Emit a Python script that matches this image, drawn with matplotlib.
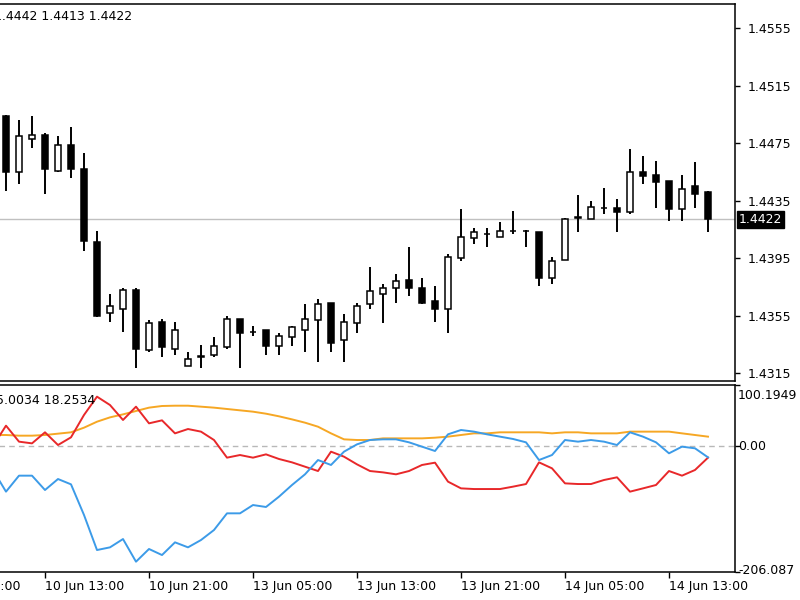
import matplotlib

matplotlib.use("Agg")

import matplotlib.pyplot as plt  # noqa: E402
import numpy as np  # noqa: E402
from matplotlib.patches import Rectangle  # noqa: E402

plt.rcParams["font.family"] = "DejaVu Sans"
plt.rcParams["font.size"] = 9

# hourly candles, first bar is 10 Jun 10:00
opens = [1.4494, 1.4455, 1.4478, 1.4481, 1.4456, 1.4474, 1.4457, 1.4406, 1.4357, 1.4360,
         1.4373, 1.4331, 1.4351, 1.4332, 1.4320, 1.4327, 1.4328, 1.4333, 1.4353, 1.4344,
         1.4345, 1.4334, 1.4340, 1.4345, 1.4352, 1.4364, 1.4338, 1.4350, 1.4363, 1.4370,
         1.4374, 1.4380, 1.4374, 1.4365, 1.4360, 1.4395, 1.4409, 1.4412, 1.4410, 1.4414,
         1.4414, 1.4413, 1.4381, 1.4394, 1.4424, 1.4422, 1.4430, 1.4430, 1.4427, 1.4455,
         1.4453, 1.4449, 1.4429, 1.4445, 1.4441]
highs = [1.4495, 1.4491, 1.4494, 1.4482, 1.4480, 1.4486, 1.4468, 1.4414, 1.4370, 1.4374,
         1.4374, 1.4352, 1.4353, 1.4351, 1.4330, 1.4335, 1.4340, 1.4355, 1.4353, 1.4348,
         1.4345, 1.4343, 1.4348, 1.4363, 1.4367, 1.4364, 1.4356, 1.4364, 1.4389, 1.4377,
         1.4384, 1.4403, 1.4381, 1.4376, 1.4398, 1.4429, 1.4416, 1.4416, 1.4420, 1.4428,
         1.4415, 1.4413, 1.4396, 1.4423, 1.4439, 1.4435, 1.4444, 1.4436, 1.4471, 1.4466,
         1.4463, 1.4449, 1.4453, 1.4462, 1.4442]
lows = [1.4442, 1.4447, 1.4472, 1.4440, 1.4455, 1.4451, 1.4400, 1.4354, 1.4351, 1.4344,
        1.4319, 1.4330, 1.4326, 1.4328, 1.4320, 1.4319, 1.4326, 1.4332, 1.4319, 1.4341,
        1.4328, 1.4328, 1.4334, 1.4330, 1.4323, 1.4330, 1.4323, 1.4343, 1.4360, 1.4350,
        1.4364, 1.4369, 1.4363, 1.4351, 1.4343, 1.4393, 1.4405, 1.4403, 1.4410, 1.4412,
        1.4403, 1.4376, 1.4377, 1.4394, 1.4413, 1.4422, 1.4426, 1.4413, 1.4426, 1.4447,
        1.4430, 1.4421, 1.4421, 1.4430, 1.4413]
closes = [1.4455, 1.4480, 1.4481, 1.4457, 1.4474, 1.4457, 1.4407, 1.4355, 1.4362, 1.4373,
          1.4332, 1.4350, 1.4333, 1.4345, 1.4325, 1.4326, 1.4334, 1.4353, 1.4343, 1.4344,
          1.4334, 1.4341, 1.4347, 1.4353, 1.4363, 1.4336, 1.4351, 1.4362, 1.4372, 1.4374,
          1.4379, 1.4374, 1.4364, 1.4360, 1.4396, 1.4410, 1.4413, 1.4412, 1.4414, 1.4414,
          1.4414, 1.4381, 1.4393, 1.4422, 1.4423, 1.4431, 1.4430, 1.4427, 1.4455, 1.4452,
          1.4448, 1.4429, 1.4443, 1.4440, 1.4422]

# indicator buffers, start one bar before the first candle
ind_orange = [18.3, 18.3, 17.2, 17.2, 18.3, 20.5, 22.7, 30.3, 40.1, 47.2, 52.1,
              57.6, 63.1, 65.8, 66.3, 66.3, 64.7, 63.1, 60.9, 58.7, 56.5,
              53.2, 48.9, 43.9, 38.5, 31.9, 21.0, 11.2, 10.1, 10.1, 12.8,
              12.8, 12.8, 12.8, 13.9, 15.6, 18.3, 21.0, 21.0, 22.7, 22.7,
              22.7, 22.7, 21.0, 22.7, 22.7, 21.0, 21.0, 21.0, 23.8, 23.8,
              23.8, 23.8, 21.0, 18.3, 15.6]
ind_red = [0.3, 33.6, 7.4, 4.6, 22.7, 1.9, 14.5, 51.1, 81.1, 67.4, 42.9,
           64.7, 37.4, 42.3, 21.0, 28.1, 23.8, 10.1, -18.8, -14.5, -18.8,
           -13.4, -21.0, -26.5, -33.6, -40.7, -9.0, -17.2, -29.8, -40.7, -42.9,
           -46.1, -40.7, -30.8, -27.0, -58.1, -69.1, -70.2, -70.2, -70.2, -66.3,
           -62.0, -26.5, -36.3, -60.9, -62.0, -62.0, -55.4, -51.0, -74.5, -69.1,
           -63.6, -40.7, -48.3, -39.0, -18.8]
ind_blue = [-39.0, -74.5, -48.3, -48.3, -71.8, -53.8, -62.5, -112.7, -170.1, -165.7, -152.1,
            -189.2, -168.4, -178.3, -157.5, -165.7, -153.7, -137.3, -110.0, -110.0, -96.4,
            -99.6, -82.7, -63.6, -46.1, -22.7, -30.8, -9.0, 3.0, 10.1, 11.2,
            11.2, 6.3, -0.8, -7.9, 19.4, 26.5, 23.8, 19.4, 15.6, 11.8,
            6.3, -22.7, -14.5, 10.1, 7.4, 10.1, 7.4, 1.9, 22.7, 15.6,
            6.3, -11.7, -0.8, -3.5, -18.3]

time_labels = ["10 Jun 05:00", "10 Jun 13:00", "10 Jun 21:00", "13 Jun 05:00",
               "13 Jun 13:00", "13 Jun 21:00", "14 Jun 05:00", "14 Jun 13:00"]
time_label_bars = [-5, 3, 11, 19, 27, 35, 43, 51]
price_ticks = [1.4315, 1.4355, 1.4395, 1.4435, 1.4475, 1.4515, 1.4555]
ind_max = 100.1949
ind_min = -206.087

W, H = 800, 600
fig = plt.figure(figsize=(8, 6), dpi=100)

left_px, right_px = -20, 735
bar0_px, bar_px = 6, 13
xlim = ((left_px - bar0_px) / bar_px, (right_px - bar0_px) / bar_px)


def px_axes(top, bottom):
    return fig.add_axes([left_px / W, 1 - bottom / H, (right_px - left_px) / W, (bottom - top) / H])


ax = px_axes(4, 381)
ax2 = px_axes(385, 572)

for a in (ax, ax2):
    for s in a.spines.values():
        s.set_linewidth(1.1)
    a.yaxis.tick_right()
    a.tick_params(axis="y", direction="out", length=3.5, width=1, pad=5.5, labelsize=9)

# candles
bars = np.arange(len(opens))
width = 0.52
for i in bars:
    o, h, l, c = opens[i], highs[i], lows[i], closes[i]
    ax.plot([i, i], [l, h], color="black", lw=1.4, zorder=2, solid_capstyle="butt")
    face = "white" if c >= o else "black"
    ax.add_patch(Rectangle((i - width / 2, min(o, c)), width, abs(c - o),
                           facecolor=face, edgecolor="black", lw=1.1, zorder=3))

ax.set_ylim(1.430964, 1.45719)
ax.set_yticks(price_ticks)
ax.set_yticklabels(["%.4f" % p for p in price_ticks])
ax.set_xticks([])
ax.set_xlim(*xlim)
ax.axhline(closes[-1], color="#c0c0c0", lw=1, zorder=1)
ax.annotate("%.4f" % closes[-1], xy=(1, closes[-1]), xycoords=("axes fraction", "data"),
            xytext=(3, 0), textcoords="offset points", ha="left", va="center",
            color="white", fontsize=9,
            bbox=dict(boxstyle="square,pad=0.15", facecolor="black", edgecolor="black"))

# indicator window
xi = np.arange(-1, len(ind_orange) - 1)
ax2.plot(xi, ind_orange, color="#f6a724", lw=1.4)
ax2.plot(xi, ind_red, color="#e8282a", lw=1.4)
ax2.plot(xi, ind_blue, color="#3c9be8", lw=1.4)
ax2.axhline(0, color="#b8b8b8", lw=1, ls=(0, (4, 3)), zorder=0)
ax2.set_ylim(ind_min, ind_max)
ax2.set_yticks([ind_min, 0, ind_max])
ax2.set_yticklabels(["", "", ""])
trans = ax2.get_yaxis_transform()
ax2.text(1.004, ind_max - 7, "100.1949", transform=trans, ha="left", va="top", fontsize=9)
ax2.text(1.004, 0, "0.00", transform=trans, ha="left", va="center", fontsize=9)
ax2.text(1.004, ind_min + 2, "-206.087", transform=trans, ha="left", va="center", fontsize=9)

ax2.set_xticks(time_label_bars)
ax2.set_xticklabels(time_labels)
ax2.tick_params(axis="x", direction="out", length=4, width=1, pad=2, labelsize=9)
for lbl in ax2.get_xticklabels():
    lbl.set_horizontalalignment("left")
ax2.set_xlim(*xlim)
# label of the tick that lies left of the window is still partly on screen
ax2.annotate(time_labels[0], xy=(time_label_bars[0], 0), xycoords=("data", "axes fraction"),
             xytext=(0, -6), textcoords="offset points", ha="left", va="top",
             fontsize=9, annotation_clip=False)

fig.text(-6 / W, 1 - 17 / H, "1.4442 1.4413 1.4422", ha="left", va="center", fontsize=9)
fig.text(-4 / W, 1 - 400 / H, "5.0034 18.2534", ha="left", va="center", fontsize=9)

fig.savefig("out.png", dpi=100)
